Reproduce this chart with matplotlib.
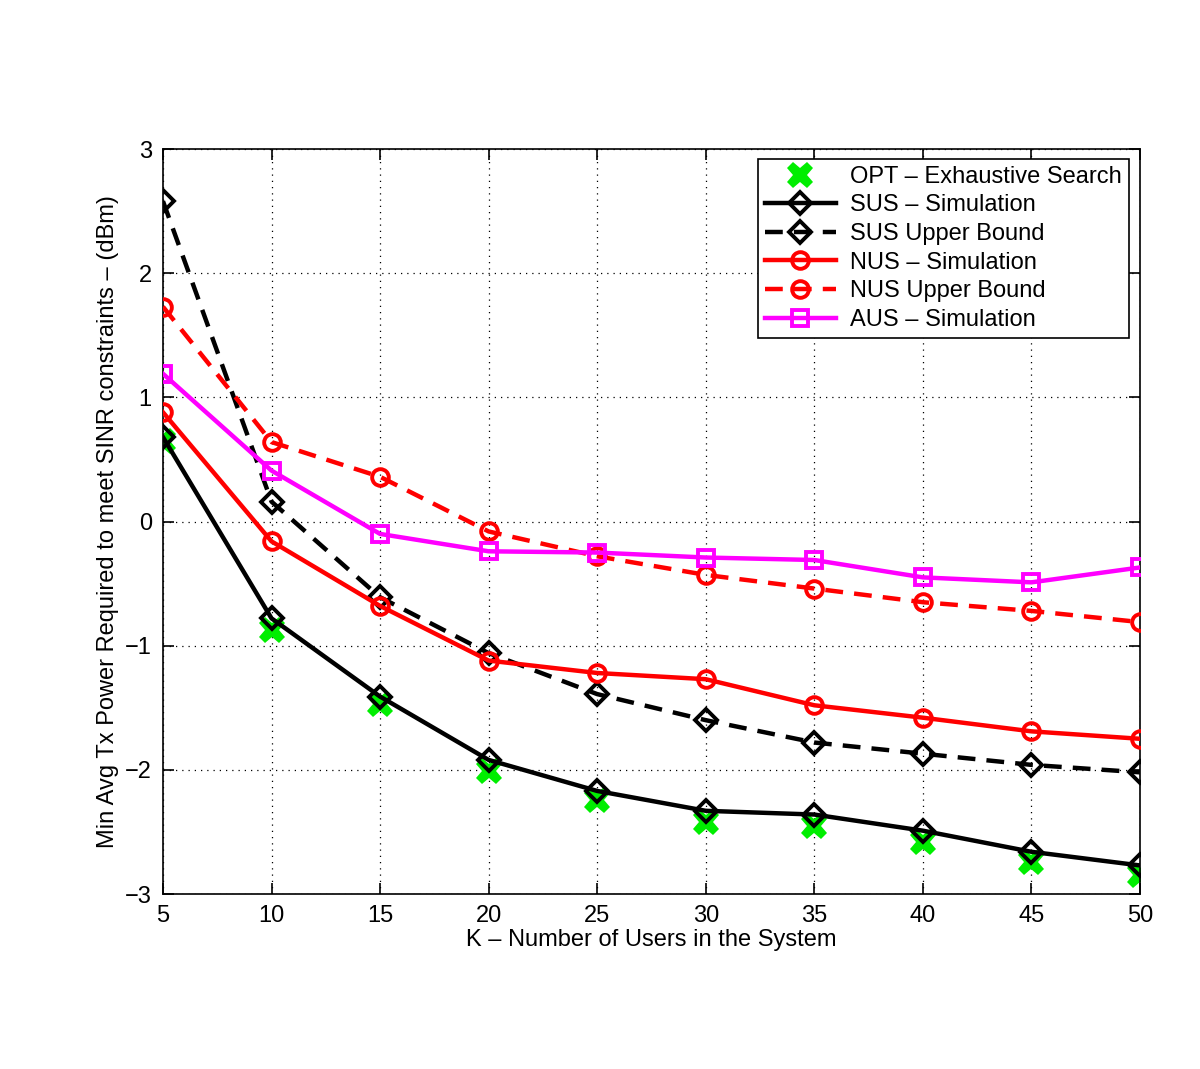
import matplotlib
matplotlib.use("Agg")
import matplotlib.pyplot as plt

K = [5, 10, 15, 20, 25, 30, 35, 40, 45, 50]
opt = [0.65, -0.87, -1.47, -2.01, -2.24, -2.42, -2.45, -2.58, -2.74, -2.85]
sus_sim = [0.68, -0.78, -1.41, -1.92, -2.17, -2.33, -2.36, -2.49, -2.66, -2.77]
sus_ub = [2.58, 0.16, -0.61, -1.06, -1.39, -1.60, -1.78, -1.87, -1.96, -2.02]
nus_sim = [0.88, -0.16, -0.68, -1.12, -1.22, -1.27, -1.48, -1.58, -1.69, -1.75]
nus_ub = [1.73, 0.64, 0.36, -0.08, -0.28, -0.43, -0.54, -0.65, -0.72, -0.81]
aus_sim = [1.19, 0.41, -0.10, -0.24, -0.25, -0.29, -0.31, -0.45, -0.49, -0.37]

xticks = [5, 10, 15, 20, 25, 30, 35, 40, 45, 50]
yticks = [-3, -2, -1, 0, 1, 2, 3]

plt.rcParams['font.family'] = ['Liberation Sans', 'DejaVu Sans']
fig = plt.figure(figsize=(12, 10.69), dpi=100)
ax = fig.add_axes([0.1358, 0.1637, 0.8142, 0.6969])

lw = 3.2
ax.plot(K, opt, linestyle='none', marker='X', color='#00ee00', markersize=19,
        markeredgewidth=0, label='OPT – Exhaustive Search', zorder=2)
ax.plot(K, sus_sim, '-', color='black', lw=lw, marker='D', markersize=11,
        mfc='none', mew=2.8, label='SUS – Simulation', zorder=3)
ax.plot(K, sus_ub, '--', color='black', lw=lw, marker='D', markersize=11,
        mfc='none', mew=2.8, dashes=(4, 2.5), label='SUS Upper Bound', zorder=3)
ax.plot(K, nus_sim, '-', color='red', lw=lw, marker='o', markersize=12,
        mfc='none', mew=2.8, label='NUS – Simulation', zorder=3)
ax.plot(K, nus_ub, '--', color='red', lw=lw, marker='o', markersize=12,
        mfc='none', mew=2.8, dashes=(4, 2.5), label='NUS Upper Bound', zorder=3)
ax.plot(K, aus_sim, '-', color='#ff00ff', lw=lw, marker='s', markersize=11,
        mfc='none', mew=2.8, label='AUS – Simulation', zorder=3)

ax.set_xlim(5, 50)
ax.set_ylim(-3, 3)
ax.set_xticks(xticks)
ax.set_yticks(yticks)
ax.tick_params(direction='in', top=True, right=True, labelsize=17, length=8, width=1.2, pad=8)
ax.grid(True, linestyle=(0, (1, 4)), color='black', linewidth=0.9)
for s in ax.spines.values():
    s.set_linewidth(1.2)

ax.set_xlabel('K – Number of Users in the System', fontsize=17, labelpad=1)
ax.set_ylabel('Min Avg Tx Power Required to meet SINR constraints – (dBm)', fontsize=17, labelpad=4)

leg = ax.legend(loc='upper right', fontsize=17, frameon=True, fancybox=False,
                edgecolor='black', framealpha=1, bbox_to_anchor=(0.9885, 0.987),
                borderaxespad=0.0,
                handlelength=3.0, labelspacing=0.28, borderpad=0.3, handletextpad=0.6)
leg.get_frame().set_linewidth(1.2)

fig.savefig('out.png', dpi=100, facecolor='white')
